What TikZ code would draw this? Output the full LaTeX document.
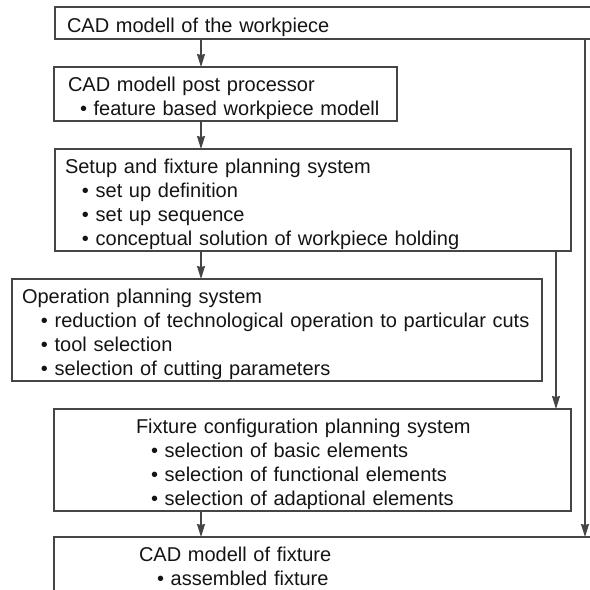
\documentclass[tikz,border=0pt]{standalone}
\usepackage{fontspec}
\setmainfont{Liberation Sans}
\usepackage{tikz}
\usetikzlibrary{positioning, arrows.meta}
\definecolor{framegray}{gray}{0.27}
\definecolor{textgray}{gray}{0.08}
\newcommand{\itm}[2][15pt]{\hspace*{#1}•\ #2}
\newcommand{\firstline}{\rule{0pt}{24pt}}
\newcommand{\lastline}{\rule[-6pt]{0pt}{6pt}}
\tikzstyle{stage} = [rectangle, draw=framegray, line width=1.2pt, align=left,
           inner ysep=0pt, outer sep=0pt, text=textgray,
           font=\fontsize{20}{24}\selectfont]
\tikzstyle{arrow} = [draw=framegray, line width=1.2pt,
           -{Stealth[length=13pt,width=8pt,inset=1pt]}]
\begin{document}
\begin{tikzpicture}[x=1pt, y=1pt, node distance=28pt]
\useasboundingbox (0,0) rectangle (590,-590);
\clip (0,0) rectangle (590,-590);
\coordinate (spine) at (201,0);
\coordinate (tap) at (556,0);
\coordinate (bypass) at (585,0);
\node (cadpart) [stage, anchor=north west, minimum height=32pt,
   text width=521pt, inner xsep=12pt] at (55,-7)
   {\firstline CAD modell of the workpiece\lastline};
\node (postproc) [stage, below=of cadpart.south west, anchor=north west,
   xshift=-1pt, text width=315pt, inner xsep=14pt]
   {\firstline CAD modell post processor\\
    \itm[12pt]{feature based workpiece modell}\lastline};
\node (setup) [stage, below=of postproc.south west, anchor=north west,
   xshift=1pt, text width=496pt, inner xsep=10pt]
   {\firstline Setup and fixture planning system\\
    \itm[17pt]{set up definition}\\
    \itm[17pt]{set up sequence}\\
    \itm[17pt]{conceptual solution of workpiece holding}\lastline};
\node (operation) [stage, below=of setup.south west, anchor=north west,
   xshift=-43pt, text width=510pt, inner xsep=10pt]
   {\firstline Operation planning system\\
    \itm[19pt]{reduction of technological operation to particular cuts}\\
    \itm[19pt]{tool selection}\\
    \itm[19pt]{selection of cutting parameters}\lastline};
\node (fixconf) [stage, below=of operation.south west, anchor=north west,
   xshift=42pt, text width=353pt, inner xsep=82pt]
   {\firstline Fixture configuration planning system\\
    \itm{selection of basic elements}\\
    \itm{selection of functional elements}\\
    \itm{selection of adaptional elements}\lastline};
\node (cadfix) [stage, below=of fixconf.south west, anchor=north west,
   yshift=2pt, text width=376pt, inner xsep=85pt]
   {\firstline CAD modell of fixture\\
    \itm[18pt]{assembled fixture}\lastline};
\draw [arrow] (cadpart.south -| spine) -- (postproc.north -| spine);
\draw [arrow] (postproc.south -| spine) -- (setup.north -| spine);
\draw [arrow] (setup.south -| spine) -- (operation.north -| spine);
\draw [arrow] (setup.south -| tap) -- (fixconf.north -| tap);
\draw [arrow] (fixconf.south -| spine) -- (cadfix.north -| spine);
\draw [arrow] (cadpart.south -| bypass) -- (cadfix.north -| bypass);
\end{tikzpicture}
\end{document}
